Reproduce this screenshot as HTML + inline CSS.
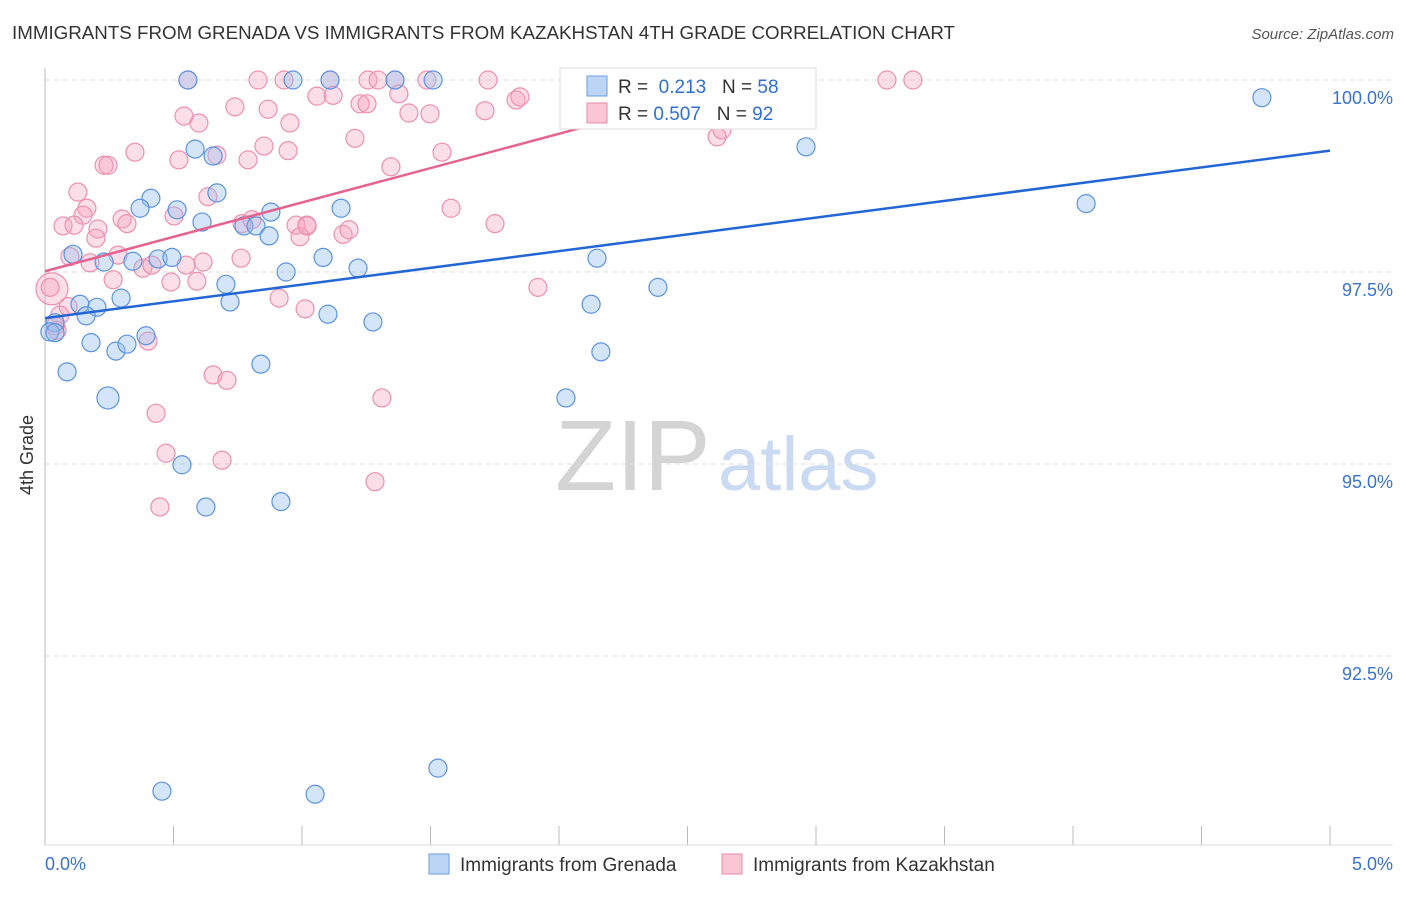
<!DOCTYPE html>
<html><head><meta charset="utf-8"><style>
body{margin:0;background:#fff;font-family:"Liberation Sans",sans-serif}
svg text{font-family:"Liberation Sans",sans-serif}
</style></head><body>
<svg id="chart" width="1406" height="892" xmlns="http://www.w3.org/2000/svg">
<text x="12" y="39" font-size="18" fill="#333" textLength="943" lengthAdjust="spacingAndGlyphs">IMMIGRANTS FROM GRENADA VS IMMIGRANTS FROM KAZAKHSTAN 4TH GRADE CORRELATION CHART</text>
<text x="1394" y="39" font-size="15" fill="#555" text-anchor="end" font-style="italic">Source: ZipAtlas.com</text>
<text x="555" y="490" font-size="100" fill="#d4d4d4" font-family="Liberation Serif">ZIP</text>
<text x="718" y="490" font-size="76" fill="#c9daf2">atlas</text>
<text transform="translate(33,455) rotate(-90)" font-size="18" fill="#333" text-anchor="middle">4th Grade</text>
<g id="grid"></g><g id="pts"></g><g id="lines"></g>
<g>
<rect x="560" y="68" width="256" height="61" fill="#fff" stroke="#ddd"/>
<rect x="587" y="76" width="20" height="20" fill="#bcd5f5" stroke="#6a9ee0"/>
<rect x="587" y="103" width="20" height="20" fill="#f9c6d6" stroke="#e88aa8"/>
<text x="618" y="93" font-size="19" fill="#333">R = <tspan fill="#2f6fd0">&#160;0.213</tspan>&#160;&#160;&#160;N = <tspan fill="#2f6fd0">58</tspan></text>
<text x="618" y="120" font-size="19" fill="#333">R = <tspan fill="#2f6fd0">0.507</tspan>&#160;&#160;&#160;N = <tspan fill="#2f6fd0">92</tspan></text>
</g>
<g>
<rect x="429" y="854" width="20" height="20" fill="#bcd5f5" stroke="#6a9ee0"/>
<text x="460" y="871" font-size="19" fill="#333">Immigrants from Grenada</text>
<rect x="722" y="854" width="20" height="20" fill="#f9c6d6" stroke="#e88aa8"/>
<text x="753" y="871" font-size="19" fill="#333">Immigrants from Kazakhstan</text>
</g>
</svg>
<script>
const xTicks=[0,0.5,1,1.5,2,2.5,3,3.5,4,4.5,5];
const yTicks=[100,97.5,95,92.5];
const yTickLabels=["100.0%","97.5%","95.0%","92.5%"];
const xTickLabels=["0.0%","5.0%"];
const blueX=[0.556,0.965,1.109,1.362,1.510,2.712,4.735,0.584,0.654,2.961,0.669,0.412,0.370,0.514,1.152,0.879,0.611,0.774,0.821,0.872,0.109,0.230,0.342,0.440,0.494,1.082,2.148,0.938,1.218,0.704,2.385,0.296,0.136,0.202,0.720,2.125,0.160,1.101,1.276,0.039,0.019,0.039,0.393,0.179,0.276,0.319,2.163,0.840,0.086,0.245,2.027,0.533,0.626,0.918,1.529,0.455,1.051,4.051];
const blueY=[100,100,100,100,100,100,99.77,99.10,99.01,99.13,98.53,98.46,98.33,98.31,98.33,98.28,98.15,98.10,98.10,97.97,97.73,97.63,97.64,97.67,97.69,97.69,97.68,97.50,97.55,97.34,97.30,97.16,97.08,97.04,97.11,97.08,96.93,96.95,96.85,96.84,96.72,96.71,96.67,96.58,96.47,96.56,96.46,96.30,96.20,95.86,95.86,94.99,94.44,94.51,91.04,90.74,90.70,98.39];
const pinkX=[0.556,0.829,0.930,1.109,1.257,1.296,1.362,1.486,1.724,2.704,2.911,3.276,3.377,1.058,1.121,1.226,1.253,1.377,0.739,0.868,1.416,1.498,1.712,1.833,1.848,0.541,0.599,0.953,1.206,0.852,0.946,0.350,0.230,0.245,0.521,0.669,0.790,1.346,1.545,2.615,2.634,0.128,0.163,0.148,0.070,0.113,0.300,0.319,0.502,0.634,0.767,0.805,0.977,1.019,0.992,1.160,1.183,1.580,1.751,0.206,0.198,0.097,0.175,0.284,0.381,0.416,0.549,0.615,0.763,0.265,0.490,0.591,0.027,1.918,0.911,1.012,0.058,0.047,0.401,0.654,0.708,0.432,1.311,0.471,0.689,1.284,0.447,0.040,0.020,0.090,1.020];
const pinkY=[100,100,100,100,100,100,100,100,100,100,100,100,100,99.79,99.80,99.69,99.69,99.82,99.65,99.62,99.57,99.56,99.60,99.74,99.78,99.53,99.44,99.44,99.24,99.14,99.08,99.06,98.89,98.89,98.96,99.02,98.96,98.87,99.06,99.26,99.35,98.54,98.33,98.24,98.10,98.11,98.19,98.13,98.23,98.48,98.13,98.18,98.11,98.11,97.96,97.99,98.05,98.33,98.13,98.06,97.94,97.70,97.62,97.72,97.55,97.59,97.59,97.63,97.68,97.40,97.37,97.38,97.28,97.30,97.16,97.02,96.94,96.74,96.60,96.16,96.09,95.66,95.86,95.14,95.05,94.77,94.44,96.80,97.30,97.05,98.10];
const blueFit=[96.90,0.436]; // intercept, slope
const pinkFit=[97.51,0.895];
const pinkFitEnd=2.76;
const X=v=>45+v*257, Y=v=>80+(100-v)*76.8;
const NS="http://www.w3.org/2000/svg";
function mk(tag,attrs,parent){const e=document.createElementNS(NS,tag);for(const k in attrs)e.setAttribute(k,attrs[k]);parent.appendChild(e);return e;}
const grid=document.getElementById('grid');
yTicks.forEach((t,i)=>{
 const l=mk('line',{x1:45,x2:1393,y1:Y(t),y2:Y(t),stroke:'#ddd','stroke-dasharray':'5,4'},grid);
 
 
 const tx=mk('text',{x:1393,y:Y(t)+24,'font-size':18,fill:'#3a72cc','text-anchor':'end'},grid);
 tx.textContent=yTickLabels[i];
 
 
});
const ax=mk('line',{x1:45,x2:45,y1:68,y2:845,stroke:'#bbb'},grid);


const bx=mk('line',{x1:45,x2:1393,y1:845,y2:845,stroke:'#ddd'},grid);


xTicks.forEach(t=>{const l=mk('line',{x1:X(t),x2:X(t),y1:826,y2:845,stroke:'#bbb'},grid);
 
 });
[[0,'start',xTickLabels[0]],[5,'end',xTickLabels[1]]].forEach(([v,a,s])=>{
 const t=mk('text',{x:v==0?45:1393,y:870,'font-size':18,fill:'#3a72cc','text-anchor':a},grid);t.textContent=s;
 
 });
const pts=document.getElementById('pts');
pinkX.forEach((x,i)=>{const c=mk('circle',{cx:X(x),cy:Y(pinkY[i]),r:(i==72?16:9),fill:'rgba(245,160,190,0.35)',stroke:'#ec90ae','stroke-width':1.2},pts);
 
 });
blueX.forEach((x,i)=>{const c=mk('circle',{cx:X(x),cy:Y(blueY[i]),r:(i==49?11:9),fill:'rgba(150,190,240,0.4)',stroke:'#5b93e0','stroke-width':1.2},pts);
 
 });
const lines=document.getElementById('lines');
const bl=mk('line',{x1:X(0),y1:Y(blueFit[0]),x2:X(5),y2:Y(blueFit[0]+5*blueFit[1]),stroke:'#2266d6','stroke-width':2.5},lines);


const pl=mk('line',{x1:X(0),y1:Y(pinkFit[0]),x2:X(pinkFitEnd),y2:Y(pinkFit[0]+pinkFitEnd*pinkFit[1]),stroke:'#e5638e','stroke-width':2.5},lines);


</script>
</body></html>
